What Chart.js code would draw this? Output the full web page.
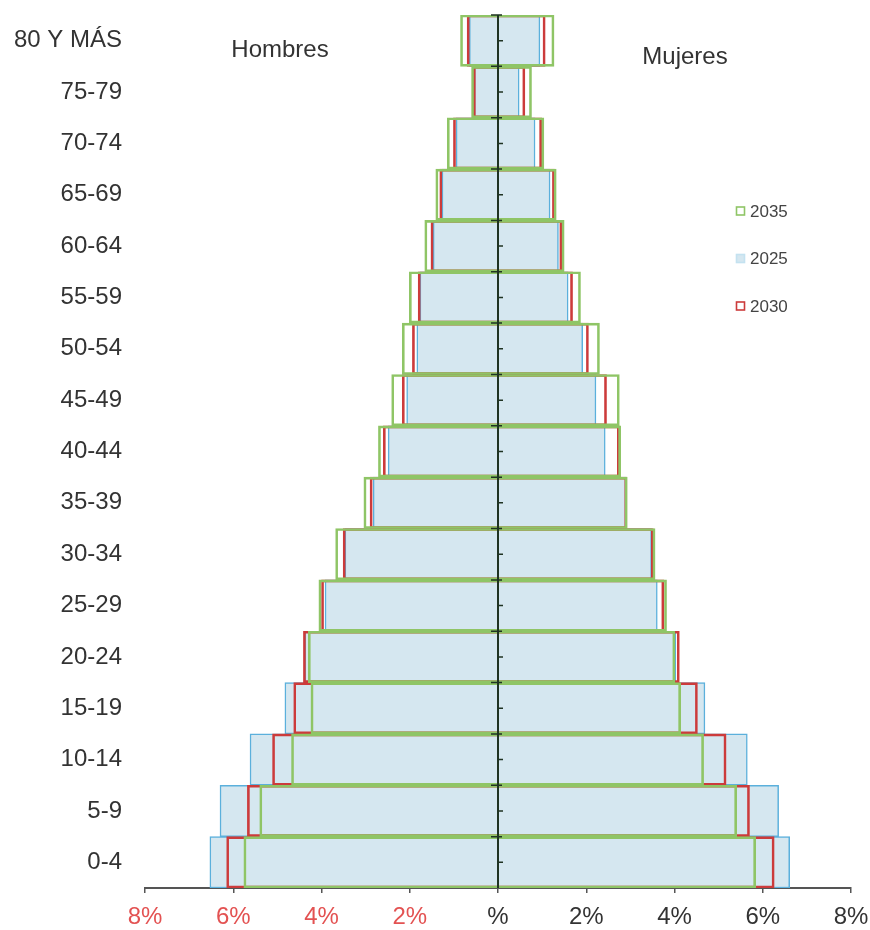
<!DOCTYPE html>
<html>
<head>
<meta charset="utf-8">
<script src="https://cdn.jsdelivr.net/npm/chart.js@4.4.1/dist/chart.umd.min.js"></script>
<style>
  body { margin: 0; background: #fff; }
  #wrap { width: 870px; height: 930px; }
</style>
</head>
<body>
<div id="wrap"><canvas id="chart"></canvas></div>
<script>
// age groups, top of the pyramid first
const ages = ['80 Y MÁS', '75-79', '70-74', '65-69', '60-64', '55-59', '50-54', '45-49',
  '40-44', '35-39', '30-34', '25-29', '20-24', '15-19', '10-14', '5-9', '0-4'];

// % of population, men (drawn to the left)
const men2025 = [0.65, 0.54, 0.95, 1.27, 1.47, 1.77, 1.84, 2.07, 2.49, 2.83, 3.47, 3.92, 4.38, 4.83, 5.62, 6.30, 6.53];
const men2030 = [0.70, 0.56, 1.01, 1.32, 1.52, 1.81, 1.94, 2.17, 2.60, 2.90, 3.51, 4.00, 4.41, 4.63, 5.11, 5.68, 6.15];
const men2035 = [0.85, 0.60, 1.15, 1.41, 1.66, 2.01, 2.17, 2.41, 2.71, 3.04, 3.68, 4.06, 4.30, 4.24, 4.68, 5.40, 5.76];

// % of population, women (drawn to the right)
const women2025 = [0.95, 0.48, 0.84, 1.18, 1.37, 1.59, 1.92, 2.22, 2.43, 2.90, 3.48, 3.61, 4.03, 4.69, 5.65, 6.36, 6.61];
const women2030 = [1.07, 0.61, 0.99, 1.28, 1.45, 1.69, 2.05, 2.46, 2.75, 2.92, 3.52, 3.76, 4.11, 4.52, 5.17, 5.70, 6.26];
const women2035 = [1.27, 0.76, 1.04, 1.32, 1.50, 1.87, 2.30, 2.75, 2.78, 2.93, 3.56, 3.82, 4.01, 4.14, 4.66, 5.41, 5.84];

const xTicks = [-8, -6, -4, -2, 0, 2, 4, 6, 8];

const FONT = "'Liberation Sans', Arial, sans-serif";
const BLUE_FILL = '#d5e7f0';
const BLUE = '#5bb0dc';
const RED = '#cc3b3b';
const GREEN = '#8fc566';

// legend entries in the order shown on the page
const legendItems = [
  { label: '2035', stroke: GREEN, fill: '#ffffff' },
  { label: '2025', stroke: '#c4e2f0', fill: BLUE_FILL },
  { label: '2030', stroke: RED, fill: '#ffffff' }
];

const pairs = (m, w) => m.map((v, i) => [-v, w[i]]);

// center axis, side titles and the legend
const pyramidDecor = {
  id: 'pyramidDecor',
  afterDatasetsDraw(chart) {
    const { ctx, chartArea, scales } = chart;
    const x0 = scales.x.getPixelForValue(0);
    const y = scales.y;
    ctx.save();
    ctx.strokeStyle = '#1f3322';
    ctx.lineWidth = 2;
    ctx.beginPath();
    ctx.moveTo(x0, chartArea.top);
    ctx.lineTo(x0, chartArea.bottom);
    ctx.stroke();
    ctx.lineWidth = 1.5;
    const half = (y.getPixelForValue(1) - y.getPixelForValue(0)) / 2;
    ages.forEach((a, i) => {
      const c = y.getPixelForValue(i);
      ctx.beginPath();
      ctx.moveTo(x0 - 7, c - half);
      ctx.lineTo(x0 + 4, c - half);
      ctx.moveTo(x0, c);
      ctx.lineTo(x0 + 5, c);
      ctx.stroke();
    });
    ctx.restore();
  },
  afterDraw(chart) {
    const { ctx } = chart;
    ctx.save();
    ctx.fillStyle = '#333';
    ctx.font = '24px ' + FONT;
    ctx.textAlign = 'center';
    ctx.textBaseline = 'middle';
    ctx.fillText('Hombres', 280, 50);
    ctx.fillText('Mujeres', 685, 57);

    ctx.font = '17px ' + FONT;
    ctx.textAlign = 'left';
    legendItems.forEach((it, i) => {
      const cy = 211 + i * 47.5;
      ctx.fillStyle = it.fill;
      ctx.fillRect(736, cy - 4.5, 9, 9);
      ctx.strokeStyle = it.stroke;
      ctx.lineWidth = 1.6;
      ctx.strokeRect(736.5, cy - 4, 8, 8);
      ctx.fillStyle = '#444';
      ctx.fillText(it.label, 750, cy + 1);
    });
    ctx.restore();
  }
};

new Chart(document.getElementById('chart'), {
  type: 'bar',
  data: {
    labels: ages,
    datasets: [
      {
        label: '2035',
        data: pairs(men2035, women2035),
        backgroundColor: 'rgba(0,0,0,0)',
        borderColor: GREEN,
        borderWidth: 2,
        order: 1
      },
      {
        label: '2030',
        data: pairs(men2030, women2030),
        backgroundColor: 'rgba(0,0,0,0)',
        borderColor: RED,
        borderWidth: 2,
        order: 2
      },
      {
        label: '2025',
        data: pairs(men2025, women2025),
        backgroundColor: BLUE_FILL,
        borderColor: BLUE,
        borderWidth: 1.5,
        order: 3
      }
    ]
  },
  options: {
    indexAxis: 'y',
    responsive: true,
    maintainAspectRatio: false,
    animation: false,
    datasets: {
      bar: {
        grouped: false,
        barPercentage: 1,
        categoryPercentage: 1,
        borderSkipped: false
      }
    },
    layout: { padding: { top: 15, right: 19, bottom: 0, left: 0 } },
    plugins: {
      legend: { display: false },
      tooltip: { enabled: false }
    },
    scales: {
      x: {
        min: -8,
        max: 8,
        afterBuildTicks: (scale) => { scale.ticks = xTicks.map(v => ({ value: v })); },
        afterFit: (scale) => {
          scale.height = 42;
          scale.paddingLeft = 0;
          scale.paddingRight = 0;
        },
        grid: { drawOnChartArea: false, drawTicks: true, tickLength: 5, color: '#555', lineWidth: 1.5 },
        border: { display: true, color: '#555', width: 2 },
        ticks: {
          padding: 10,
          font: { family: FONT, size: 24 },
          color: (ctx) => ctx.tick.value < 0 ? '#e35252' : '#333',
          callback: (v) => v === 0 ? '%' : Math.abs(v) + '%'
        }
      },
      y: {
        afterFit: (scale) => {
          scale.width = 145;
          scale.paddingTop = 0;
          scale.paddingBottom = 0;
        },
        grid: { display: false, drawTicks: false },
        border: { display: false },
        ticks: {
          padding: 23,
          font: { family: FONT, size: 24 },
          color: '#333'
        }
      }
    }
  },
  plugins: [pyramidDecor]
});
</script>
</body>
</html>
